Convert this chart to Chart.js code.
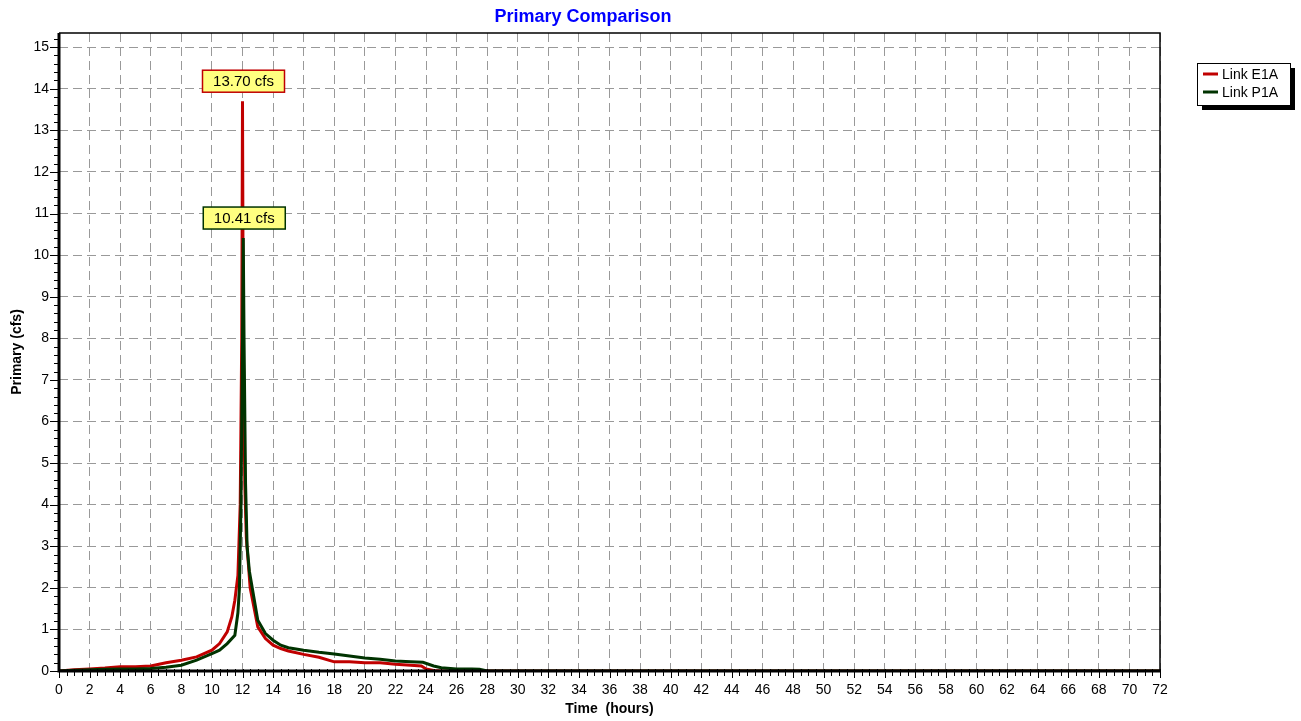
<!DOCTYPE html>
<html>
<head>
<meta charset="utf-8">
<script src="https://cdn.jsdelivr.net/npm/chart.js@4/dist/chart.umd.min.js"></script>
<style>
  html, body { margin: 0; padding: 0; background: #fff; }
  #wrap { width: 1301px; height: 721px; }
</style>
</head>
<body>
<div id="wrap"><canvas id="flowChart" width="1301" height="721"></canvas></div>
<script>
// series (hours, cfs)
const hoursE1A = [0, 1, 2, 3, 4, 5, 6, 7, 8, 9, 10, 10.5, 11, 11.3, 11.5, 11.7, 11.85, 11.95, 12.0, 12.05, 12.15, 12.25, 12.4, 12.5, 13, 13.5, 14, 14.5, 15, 16, 17, 18, 19, 20, 21, 22, 23, 23.7, 24, 24.5, 25, 72];
const flowE1A = [0, 0.03, 0.05, 0.07, 0.1, 0.1, 0.12, 0.2, 0.26, 0.34, 0.5, 0.66, 0.94, 1.3, 1.7, 2.3, 4.0, 8.0, 13.7, 8.0, 4.5, 3.2, 2.5, 2.0, 1.06, 0.78, 0.62, 0.54, 0.48, 0.4, 0.33, 0.22, 0.22, 0.2, 0.2, 0.16, 0.14, 0.12, 0.05, 0.01, 0, 0];

const hoursP1A = [0, 1, 2, 3, 4, 5, 6, 7, 8, 9, 10, 10.5, 11, 11.5, 11.7, 11.8, 11.9, 12.0, 12.05, 12.1, 12.2, 12.3, 12.45, 13, 13.5, 14, 14.5, 15, 16, 17, 18, 19, 20, 21, 22, 23, 23.8, 24.5, 25, 26, 27, 27.5, 28, 72];
const flowP1A = [0, 0.02, 0.03, 0.04, 0.05, 0.05, 0.06, 0.09, 0.14, 0.26, 0.42, 0.5, 0.66, 0.86, 1.4, 2.0, 4.0, 8.0, 10.41, 8.0, 4.5, 3.0, 2.4, 1.22, 0.9, 0.74, 0.62, 0.56, 0.5, 0.45, 0.41, 0.36, 0.31, 0.28, 0.24, 0.22, 0.21, 0.12, 0.08, 0.05, 0.05, 0.04, 0, 0];

const seriesNames = ['Link E1A', 'Link P1A'];
const seriesColors = ['#c00000', '#003300'];
const yTicks = [0, 1, 2, 3, 4, 5, 6, 7, 8, 9, 10, 11, 12, 13, 14, 15];
const xTickStep = 2;

const FONT = 'Arial, "Liberation Sans", sans-serif';

const toPoints = (xs, ys) => xs.map((x, i) => ({ x: x, y: ys[i] }));

// frame, minor ticks, title, legend and peak labels
const hydroDecor = {
    id: 'hydroDecor',
    afterDraw(chart) {
        const ctx = chart.ctx;
        const area = chart.chartArea;
        const xs = chart.scales.x;
        const ys = chart.scales.y;
        ctx.save();

        // tick marks
        ctx.strokeStyle = '#000';
        ctx.lineWidth = 1;
        for (let k = 0; k <= 76; k++) {
            const y = Math.round(ys.getPixelForValue(k * 0.2)) + 0.5;
            const major = k % 5 === 0;
            ctx.beginPath();
            ctx.moveTo(area.left - (major ? 9 : 5), y);
            ctx.lineTo(area.left, y);
            ctx.stroke();
        }
        for (let k = 0; k <= 144; k++) {
            const x = Math.round(xs.getPixelForValue(k * 0.5)) + 0.5;
            const major = k % 4 === 0;
            ctx.beginPath();
            ctx.moveTo(x, area.bottom - 2);
            ctx.lineTo(x, area.bottom + (major ? 7 : 5));
            ctx.stroke();
        }

        // frame
        ctx.lineWidth = 1.5;
        ctx.beginPath();
        ctx.moveTo(area.left, area.top);
        ctx.lineTo(area.right, area.top);
        ctx.lineTo(area.right, area.bottom);
        ctx.stroke();
        ctx.lineWidth = 3;
        ctx.beginPath();
        ctx.moveTo(area.left, area.top);
        ctx.lineTo(area.left, area.bottom);
        ctx.lineTo(area.right, area.bottom);
        ctx.stroke();

        // peak labels
        chart.data.datasets.forEach((ds, i) => {
            let peak = ds.data[0];
            ds.data.forEach(p => { if (p.y > peak.y) peak = p; });
            const px = xs.getPixelForValue(peak.x);
            const py = ys.getPixelForValue(peak.y);
            const text = peak.y.toFixed(2) + ' cfs';
            ctx.font = '15px ' + FONT;
            const w = 82, h = 22;
            const bx = px - w / 2 + 1, by = py - 9 - h;
            ctx.fillStyle = '#ffff80';
            ctx.fillRect(bx, by, w, h);
            ctx.strokeStyle = seriesColors[i];
            ctx.lineWidth = 1.5;
            ctx.strokeRect(bx, by, w, h);
            ctx.fillStyle = '#000';
            ctx.textAlign = 'center';
            ctx.textBaseline = 'middle';
            ctx.fillText(text, bx + w / 2, by + h / 2 + 1);
        });

        // title
        ctx.fillStyle = '#0000ff';
        ctx.font = 'bold 18px ' + FONT;
        ctx.textAlign = 'center';
        ctx.textBaseline = 'middle';
        ctx.fillText('Primary Comparison', 583, 17);

        // legend
        const lx = 1197, ly = 63, lw = 93, lh = 42;
        ctx.fillStyle = '#000';
        ctx.fillRect(lx + 5, ly + 5, lw, lh);
        ctx.fillStyle = '#fff';
        ctx.fillRect(lx, ly, lw, lh);
        ctx.strokeStyle = '#000';
        ctx.lineWidth = 1;
        ctx.strokeRect(lx + 0.5, ly + 0.5, lw, lh);
        ctx.font = '14px ' + FONT;
        ctx.textAlign = 'left';
        seriesNames.forEach((name, i) => {
            const yy = ly + 11 + i * 18;
            ctx.strokeStyle = seriesColors[i];
            ctx.lineWidth = 3;
            ctx.beginPath();
            ctx.moveTo(lx + 6, yy);
            ctx.lineTo(lx + 21, yy);
            ctx.stroke();
            ctx.fillStyle = '#000';
            ctx.fillText(name, lx + 25, yy + 1);
        });

        ctx.restore();
    }
};

const ctx = document.getElementById('flowChart').getContext('2d');
const chart = new Chart(ctx, {
    type: 'line',
    data: {
        datasets: [
            {
                label: seriesNames[0],
                data: toPoints(hoursE1A, flowE1A),
                borderColor: seriesColors[0],
                borderWidth: 3,
                pointRadius: 0,
                tension: 0,
                fill: false,
                order: 1
            },
            {
                label: seriesNames[1],
                data: toPoints(hoursP1A, flowP1A),
                borderColor: seriesColors[1],
                borderWidth: 3,
                pointRadius: 0,
                tension: 0,
                fill: false,
                order: 0
            }
        ]
    },
    options: {
        responsive: false,
        animation: false,
        layout: { padding: { top: 33, right: 141, left: 0, bottom: 0 } },
        plugins: {
            legend: { display: false },
            title: { display: false },
            tooltip: { enabled: false }
        },
        scales: {
            x: {
                type: 'linear',
                min: 0,
                max: 72,
                afterFit: s => { s.height = 50; },
                ticks: {
                    stepSize: xTickStep,
                    color: '#000',
                    font: { family: FONT, size: 14 },
                    padding: 11,
                    maxRotation: 0,
                    autoSkip: false
                },
                grid: { color: '#999999', lineWidth: 1, drawTicks: false },
                border: { display: false, dash: [9, 5] },
                title: {
                    display: true,
                    text: 'Time  (hours)',
                    color: '#000',
                    font: { family: FONT, size: 14, weight: 'bold' },
                    padding: { top: 0, bottom: 3 }
                }
            },
            y: {
                type: 'linear',
                min: 0,
                max: 15.34,
                afterFit: s => { s.width = 59; },
                afterBuildTicks: s => { s.ticks = yTicks.map(v => ({ value: v })); },
                ticks: {
                    color: '#000',
                    font: { family: FONT, size: 14 },
                    padding: 10
                },
                grid: { color: '#999999', lineWidth: 1, drawTicks: false },
                border: { display: false, dash: [9, 5] },
                title: {
                    display: true,
                    text: 'Primary (cfs)',
                    color: '#000',
                    font: { family: FONT, size: 14, weight: 'bold' },
                    padding: { top: 9, bottom: 0 }
                }
            }
        }
    },
    plugins: [hydroDecor]
});
</script>
</body>
</html>
